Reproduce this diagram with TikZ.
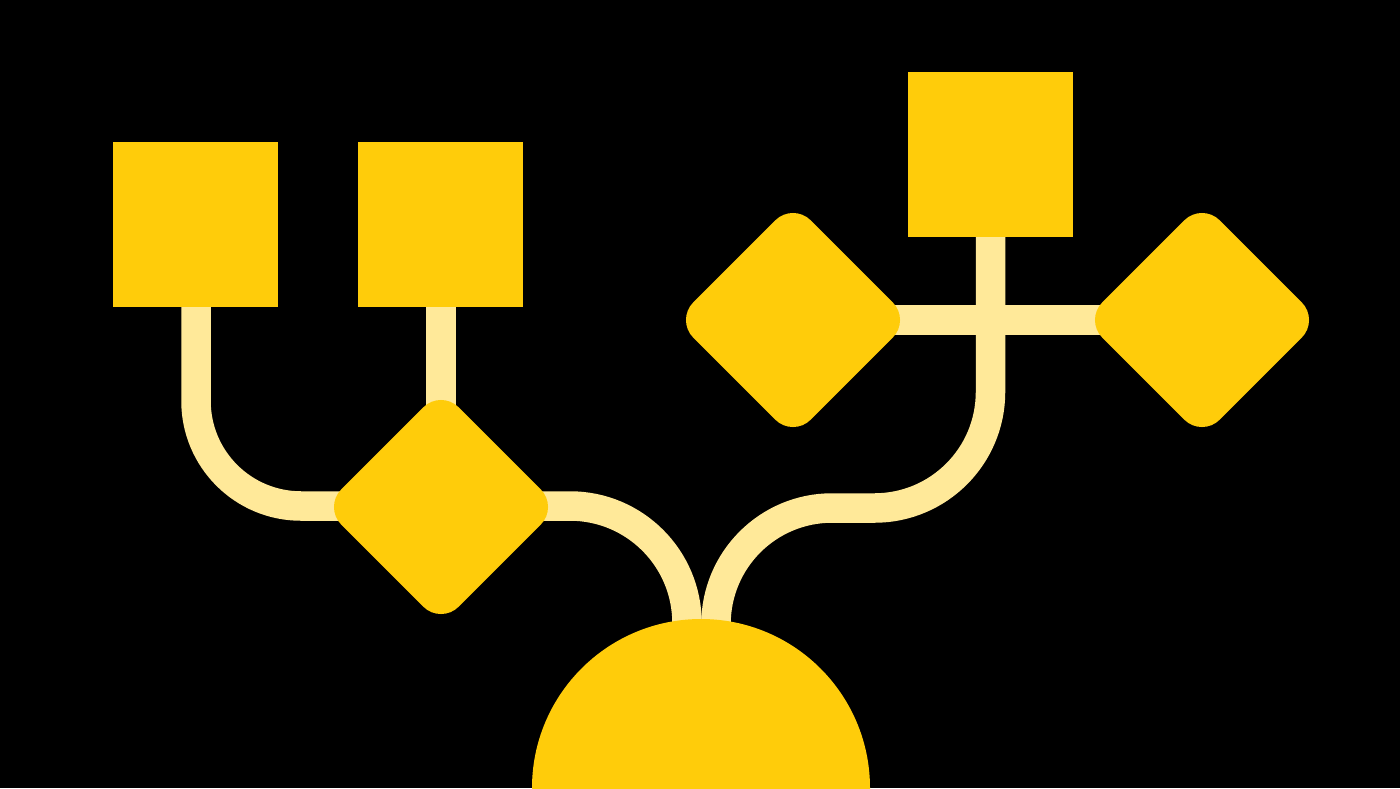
\documentclass[tikz,border=0pt]{standalone}
\usetikzlibrary{calc}
\definecolor{gold}{RGB}{255,204,10}
\definecolor{paleline}{RGB}{255,233,153}
\pgfdeclarelayer{bg}
\pgfdeclarelayer{lines}
\pgfsetlayers{bg,lines,main}
\tikzset{
  sqbox/.style={rectangle, fill=gold, draw=none, inner sep=0pt, minimum width=165pt, minimum height=165pt},
  dmbox/.style={rectangle, fill=gold, draw=none, inner sep=0pt, minimum width=166pt, minimum height=166pt, rotate=45, rounded corners=25pt},
  rootdisc/.style={circle, fill=gold, draw=none, inner sep=0pt, minimum size=338pt},
  conn/.style={draw=paleline, line width=29.5pt}
}
\begin{document}
\begin{tikzpicture}[x=1pt,y=-1pt]
\useasboundingbox (0,0) rectangle (1400,788);
\clip (0,0) rectangle (1400,788);
\begin{pgfonlayer}{bg}
\fill[black] (0,0) rectangle (1400,788);
\end{pgfonlayer}
\node[sqbox] (sq1) at (195,224.5) {};
\node[sqbox] (sq2) at (440,224.5) {};
\node[sqbox] (sq3) at (990.5,154.5) {};
\node[dmbox] (d1) at (441,507) {};
\node[dmbox] (d2) at (793,320) {};
\node[dmbox] (d3) at (1202,320) {};
\node[rootdisc] (root) at (701,788) {};
\begin{pgfonlayer}{lines}
\draw[conn, rounded corners=105pt] ([xshift=1pt]sq1.south) |- ([yshift=1pt]d1.center);
\draw[conn] (sq2.south -| d1.center) -- (d1.center);
\draw[conn, rounded corners=117pt] ([yshift=1pt]d1.center) -| ([xshift=-14pt]root.center);
\draw[conn, rounded corners=116pt] ([xshift=15pt]root.center) |- ($(sq3.south |- d1.center)+(0,1)$) -- (sq3.south);
\draw[conn] (d2.center) -- (d3.center);
\end{pgfonlayer}
\end{tikzpicture}
\end{document}
